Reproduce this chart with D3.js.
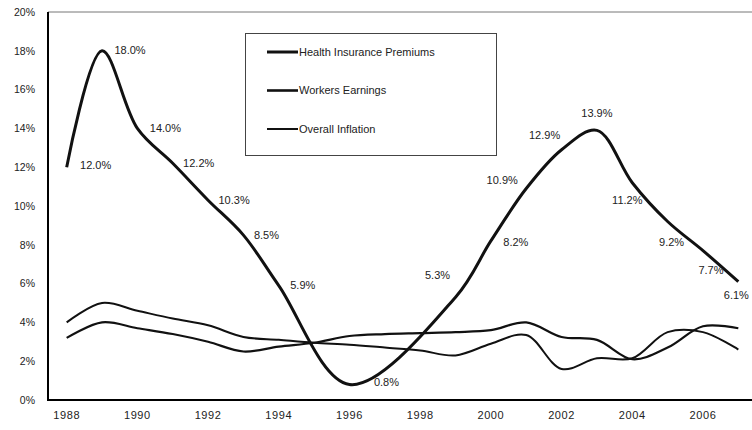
<!DOCTYPE html>
<html>
<head>
<meta charset="utf-8">
<script src="https://cdn.jsdelivr.net/npm/d3@7"></script>
<style>
  body { margin: 0; background: #fff; }
  svg { display: block; font-family: "Liberation Sans", Arial, sans-serif; }
  .tick text { fill: #222; }
</style>
</head>
<body>
<div id="chart"></div>
<script>
// data
const years = [1988, 1989, 1990, 1991, 1992, 1993, 1994, 1995, 1996, 1997,
               1998, 1999, 2000, 2001, 2002, 2003, 2004, 2005, 2006, 2007];
const premiums  = [12.0, 18.0, 14.0, 12.2, 10.3, 8.5, 5.9, null, 0.8, null,
                   null, 5.3, 8.2, 10.9, 12.9, 13.9, 11.2, 9.2, 7.7, 6.1];
const earnings  = [3.2, 4.0, 3.7, 3.4, 3.0, 2.5, 2.75, 2.95, 3.3, 3.4,
                   3.45, 3.5, 3.6, 4.0, 3.25, 3.1, 2.1, 2.7, 3.8, 3.7];
const inflation = [4.0, 5.0, 4.6, 4.2, 3.85, 3.25, 3.1, 2.95, 2.85, 2.7,
                   2.55, 2.3, 2.9, 3.35, 1.6, 2.15, 2.15, 3.5, 3.5, 2.6];
const yTicks = [0, 2, 4, 6, 8, 10, 12, 14, 16, 18, 20];
const xTickYears = [1988, 1990, 1992, 1994, 1996, 1998, 2000, 2002, 2004, 2006];
const seriesNames = ["Health Insurance Premiums", "Workers Earnings", "Overall Inflation"];

// where each premium label sits relative to its point (text centre)
const labelNudge = {
  1988: [29, -2], 1989: [28, -1], 1990: [28, 0], 1991: [26, 0], 1992: [26, 0],
  1993: [23, 0], 1994: [24, 0], 1996: [37, -2], 1999: [-18, -22], 2000: [25, 1],
  2001: [-24, -8], 2002: [-17, -15], 2003: [0, -17], 2004: [-5, 17],
  2005: [4, 21], 2006: [8, 20], 2007: [-2, 13]
};

const W = 752, H = 430;
const plotL = 48, plotT = 12, plotB = 400, plotR = 756;

const svg = d3.select("#chart").append("svg")
    .attr("width", W)
    .attr("height", H);

const x = d3.scaleBand()
  .domain(years)
  .range([plotL + 1, plotR]);
const cx = d => x(d) + x.bandwidth() / 2;

const y = d3.scaleLinear()
  .domain([0, 20])
  .range([plotB, plotT]);

// top border of the plot area
svg.append("line")
  .attr("x1", plotL).attr("x2", plotR)
  .attr("y1", plotT).attr("y2", plotT)
  .attr("stroke", "#777")
  .attr("stroke-width", 1);

// y axis labels
svg.append("g")
  .attr("transform", `translate(${plotL - 10},0)`)
  .call(d3.axisLeft(y).tickValues(yTicks).tickSize(0).tickFormat(d => d + "%"))
  .call(g => g.select(".domain").remove())
  .selectAll("text")
    .style("font-size", "10.5px");

// x axis labels
svg.append("g")
  .attr("transform", `translate(0,${plotB + 8})`)
  .call(d3.axisBottom(x).tickValues(xTickYears).tickSize(0))
  .call(g => g.select(".domain").remove())
  .selectAll("text")
    .style("font-size", "11px")
    .style("letter-spacing", "0.6px");

// series
const curve = d3.curveCatmullRom.alpha(0.5);
const line = d3.line()
  .x(d => cx(d.year))
  .y(d => y(d.value))
  .curve(curve);

const toPoints = vals => years.map((yr, i) => ({year: yr, value: vals[i]}))
  .filter(d => d.value !== null);

const premPts = toPoints(premiums);

svg.append("path")
  .datum(toPoints(earnings))
  .attr("fill", "none")
  .attr("stroke", "#111")
  .attr("stroke-width", 2.2)
  .attr("d", line);

svg.append("path")
  .datum(toPoints(inflation))
  .attr("fill", "none")
  .attr("stroke", "#111")
  .attr("stroke-width", 2)
  .attr("d", line);

svg.append("path")
  .datum(premPts)
  .attr("fill", "none")
  .attr("stroke", "#111")
  .attr("stroke-width", 3)
  .attr("stroke-linejoin", "round")
  .attr("d", line);

// data labels
svg.append("g")
  .selectAll("text")
  .data(premPts)
  .enter().append("text")
    .attr("x", d => cx(d.year) + labelNudge[d.year][0])
    .attr("y", d => y(d.value) + labelNudge[d.year][1])
    .attr("dy", "0.35em")
    .attr("text-anchor", "middle")
    .style("font-size", "11px")
    .style("fill", "#222")
    .text(d => d.value.toFixed(1) + "%");

// axes lines
svg.append("line")
  .attr("x1", plotL).attr("x2", plotL)
  .attr("y1", plotT).attr("y2", plotB + 1)
  .attr("stroke", "#000")
  .attr("stroke-width", 2);
svg.append("line")
  .attr("x1", plotL).attr("x2", plotR)
  .attr("y1", plotB).attr("y2", plotB)
  .attr("stroke", "#000")
  .attr("stroke-width", 2);

// legend
const legend = svg.append("g");
legend.append("rect")
  .attr("x", 245.5).attr("y", 33.5)
  .attr("width", 251).attr("height", 122)
  .attr("fill", "#fff")
  .attr("stroke", "#444")
  .attr("stroke-width", 1);

const legendWidths = [3, 2.6, 2];
seriesNames.forEach((name, i) => {
  const ly = 52 + i * 38.5;
  legend.append("line")
    .attr("x1", 267).attr("x2", 298)
    .attr("y1", ly).attr("y2", ly)
    .attr("stroke", "#111")
    .attr("stroke-width", legendWidths[i]);
  legend.append("text")
    .attr("x", 299)
    .attr("y", ly)
    .attr("dy", "0.35em")
    .style("font-size", "11px")
    .style("fill", "#222")
    .text(name);
});
</script>
</body>
</html>
